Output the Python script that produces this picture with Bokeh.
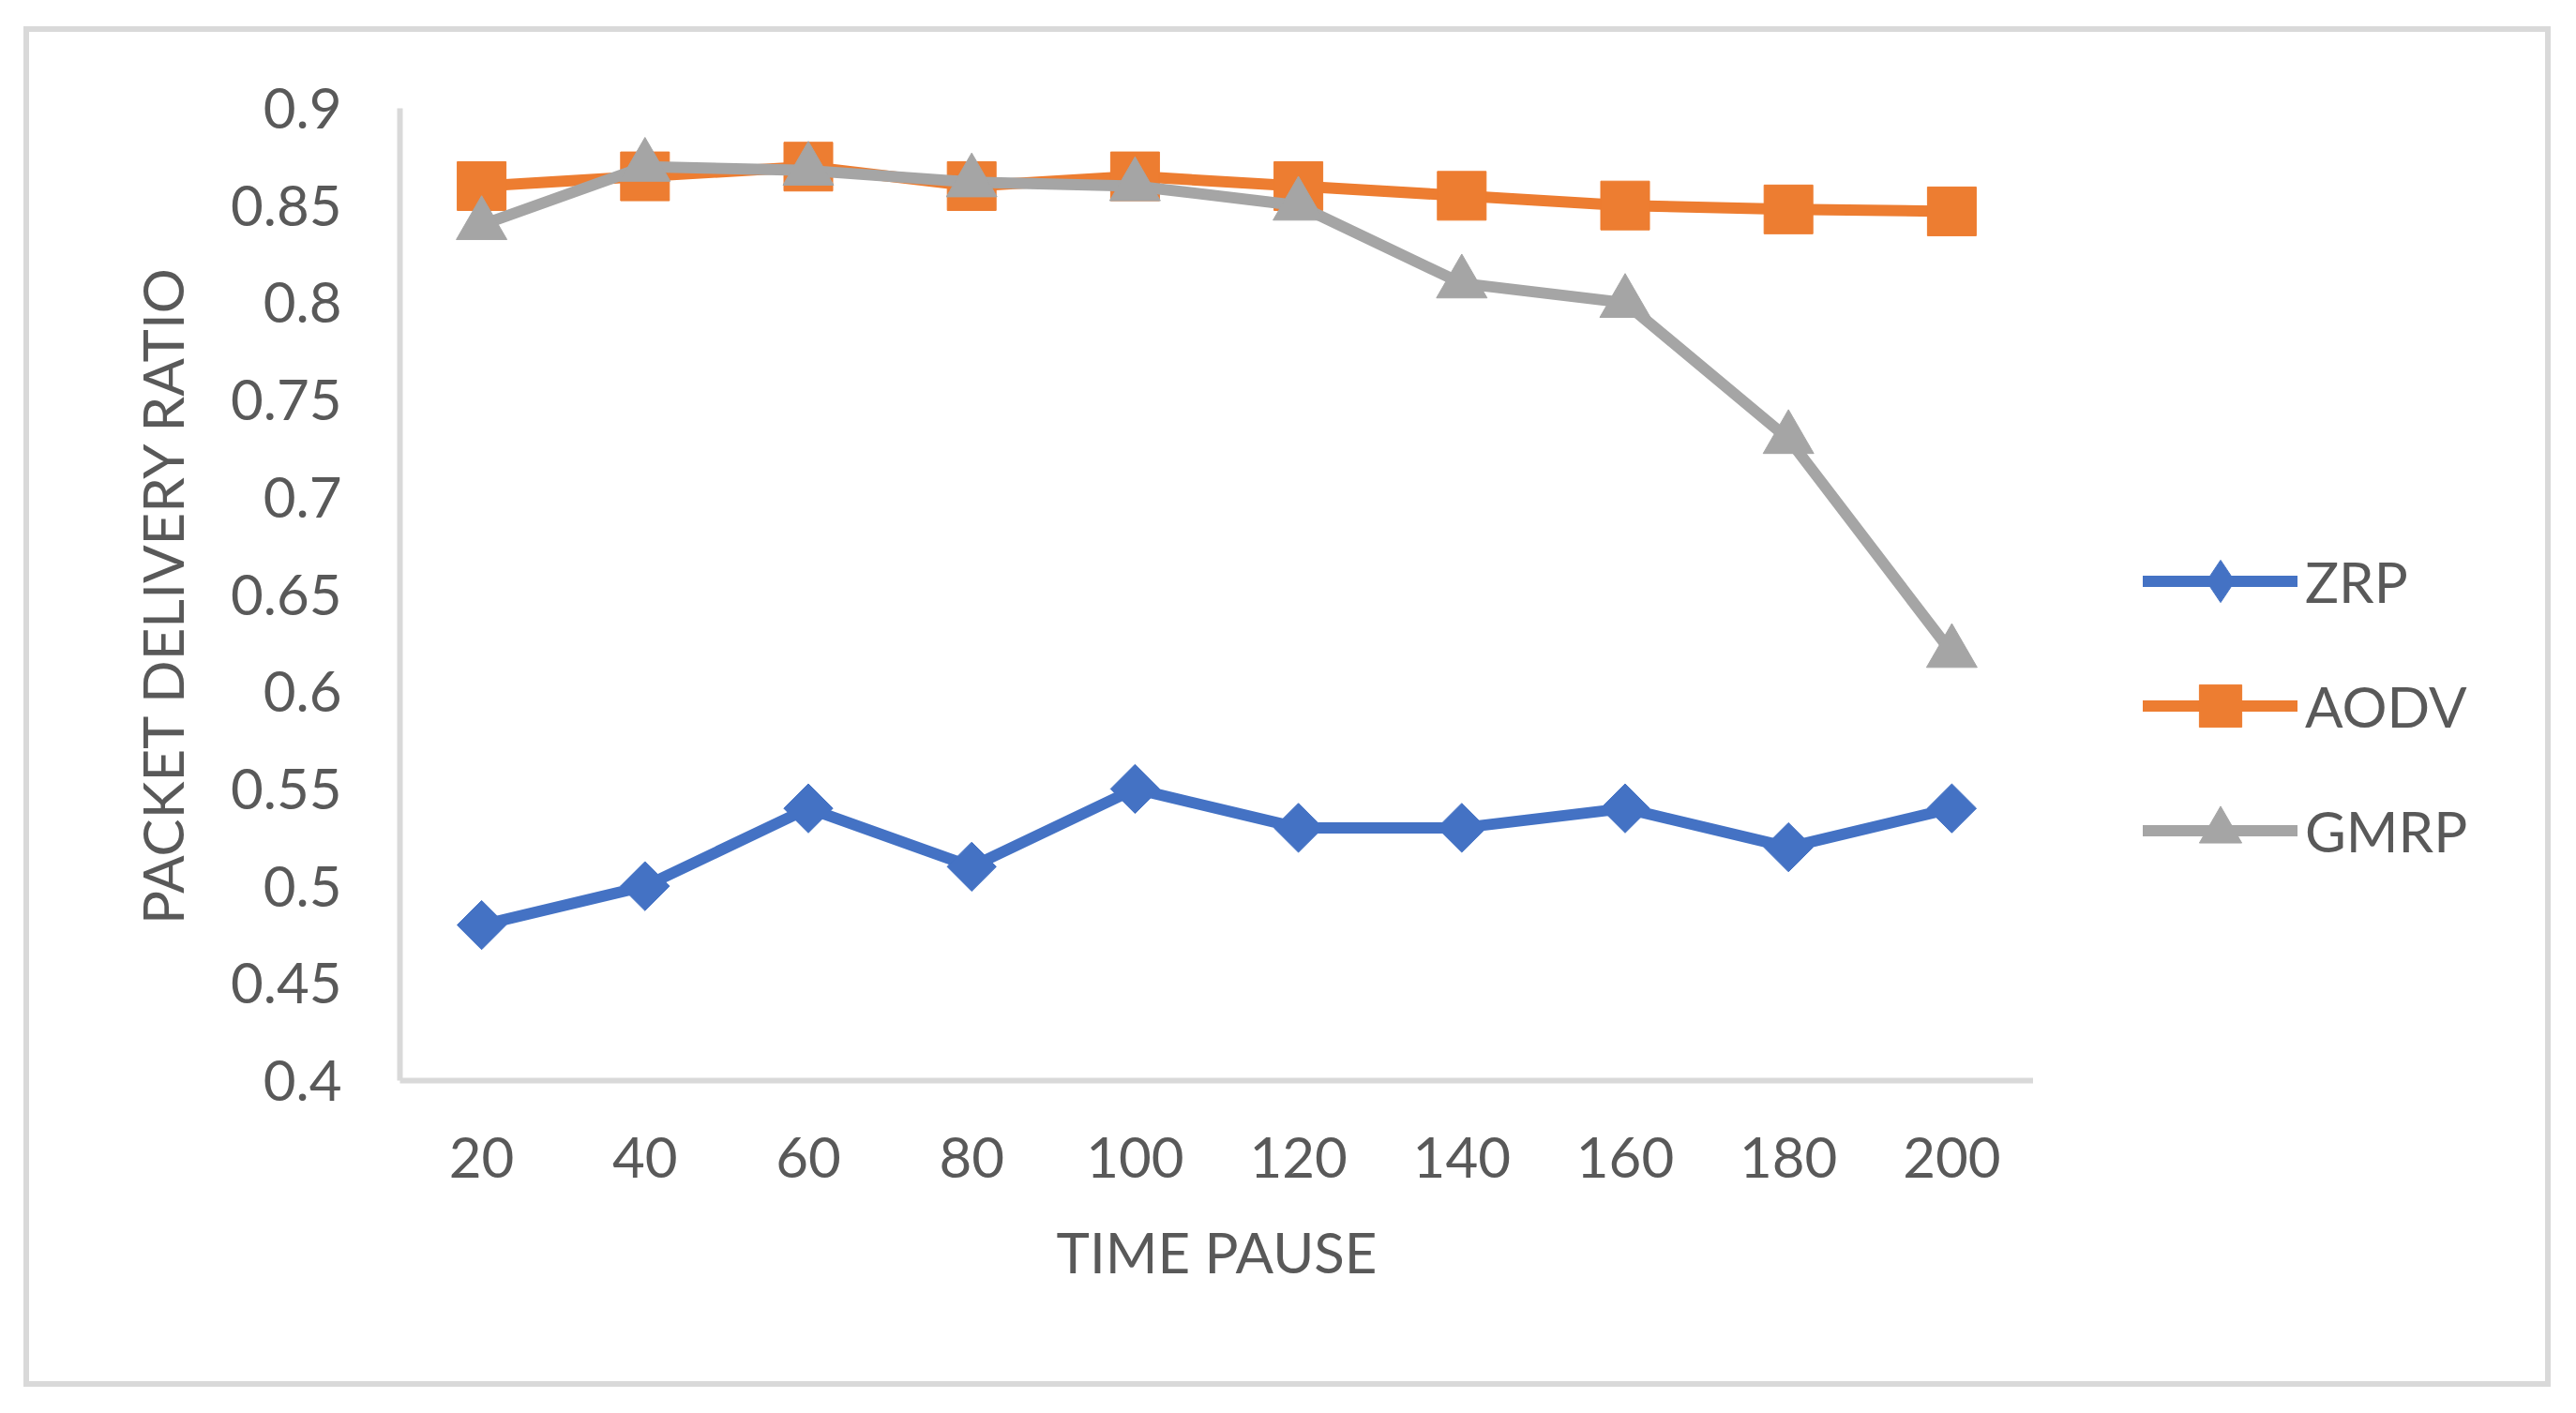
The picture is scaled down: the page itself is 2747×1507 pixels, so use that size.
import math
from bokeh.plotting import figure
from bokeh.layouts import row
from bokeh.models import FactorRange, Range1d, FixedTicker, Legend, LegendItem
from bokeh.embed import file_html
from bokeh.resources import INLINE

# ---- data ----
time_pause = ["20", "40", "60", "80", "100", "120", "140", "160", "180", "200"]
zrp = [0.48, 0.50, 0.54, 0.51, 0.55, 0.53, 0.53, 0.54, 0.52, 0.54]
aodv = [0.86, 0.865, 0.87, 0.86, 0.865, 0.86, 0.855, 0.85, 0.848, 0.847]
gmrp = [0.84, 0.87, 0.868, 0.862, 0.86, 0.85, 0.81, 0.80, 0.73, 0.62]
y_ticks = [0.4, 0.45, 0.5, 0.55, 0.6, 0.65, 0.7, 0.75, 0.8, 0.85, 0.9]
y_tick_labels = ["0.4", "0.45", "0.5", "0.55", "0.6", "0.65", "0.7", "0.75", "0.8", "0.85", "0.9"]
series_names = ["ZRP", "AODV", "GMRP"]

TEXT = "#595959"
AXIS = "#D9D9D9"
FONT = "Lato"
c1, c2, c3 = "#4472C4", "#ED7D31", "#A5A5A5"
lw = 12

H = 1439
W_MAIN, W_LEG = 2137, 546

p = figure(width=W_MAIN, height=H, output_backend="svg", toolbar_location=None,
           x_range=FactorRange(factors=time_pause, range_padding=0),
           y_range=Range1d(0.4, 0.9))
p.min_border_left = 395
p.min_border_right = 0
p.min_border_top = 81
p.min_border_bottom = 321
p.outline_line_color = None
p.background_fill_color = "white"
p.border_fill_color = "white"
p.grid.visible = False

for ax in (p.xaxis[0], p.yaxis[0]):
    ax.axis_line_color = AXIS
    ax.axis_line_width = 6
    ax.major_tick_line_color = None
    ax.minor_tick_line_color = None
    ax.major_tick_out = 0
    ax.major_tick_in = 0
    ax.major_label_text_font = FONT
    ax.major_label_text_font_size = "60px"
    ax.major_label_text_color = TEXT
    ax.axis_label_text_font = FONT
    ax.axis_label_text_font_style = "normal"
    ax.axis_label_text_color = TEXT
    ax.axis_label_text_font_size = "60px"

p.yaxis.ticker = FixedTicker(ticks=y_ticks)
p.yaxis.major_label_overrides = {t: s for t, s in zip(y_ticks, y_tick_labels)}
p.yaxis.major_label_standoff = 62
p.yaxis.axis_label = "PACKET DELIVERY RATIO"
p.yaxis.axis_label_standoff = 34
p.xaxis.major_label_standoff = 60
p.xaxis.axis_label = "TIME PAUSE"
p.xaxis.axis_label_standoff = 40

# series
p.line(time_pause, zrp, line_color=c1, line_width=lw, line_join="round", line_cap="round")
p.scatter(time_pause, zrp, marker="square", angle=math.pi / 4, size=37, fill_color=c1, line_color=c1)
p.line(time_pause, aodv, line_color=c2, line_width=lw, line_join="round", line_cap="round")
p.scatter(time_pause, aodv, marker="square", size=52, fill_color=c2, line_color=c2)
p.line(time_pause, gmrp, line_color=c3, line_width=lw, line_join="round", line_cap="round")
p.scatter(time_pause, gmrp, marker="triangle", size=54, fill_color=c3, line_color=c3)

# ---- legend panel (same series, drawn out of view; only the legend shows) ----
q = figure(width=W_LEG, height=H, output_backend="svg", toolbar_location=None,
           x_range=FactorRange(factors=time_pause, range_padding=0),
           y_range=Range1d(0.0, 0.1), x_axis_location=None, y_axis_location=None)
q.min_border = 0
q.outline_line_color = None
q.grid.visible = False
q.background_fill_color = "white"
q.border_fill_color = "white"

l1 = q.line(time_pause, zrp, line_color=c1, line_width=lw, line_cap="round")
m1 = q.scatter(time_pause, zrp, marker="diamond", size=40, fill_color=c1, line_color=c1)
l2 = q.line(time_pause, aodv, line_color=c2, line_width=lw, line_cap="round")
m2 = q.scatter(time_pause, aodv, marker="square", size=52, fill_color=c2, line_color=c2)
l3 = q.line(time_pause, gmrp, line_color=c3, line_width=lw, line_cap="round")
m3 = q.scatter(time_pause, gmrp, marker="triangle", size=54, fill_color=c3, line_color=c3)

legend = Legend(items=[
    LegendItem(label=series_names[0], renderers=[l1, m1]),
    LegendItem(label=series_names[1], renderers=[l2, m2]),
    LegendItem(label=series_names[2], renderers=[l3, m3]),
])
legend.location = (117, 210)
legend.border_line_color = None
legend.background_fill_alpha = 0
legend.padding = 0
legend.margin = 0
legend.glyph_width = 165
legend.glyph_height = 113
legend.label_height = 113
legend.spacing = 20
legend.label_standoff = 8
legend.label_text_font = FONT
legend.label_text_font_size = "60px"
legend.label_text_color = TEXT
q.add_layout(legend)

layout = row(p, q, spacing=0)
layout.margin = (28, 0, 0, 25)
layout.styles = {"border": "6px solid #D9D9D9"}

open("out.html", "w").write(file_html(layout, INLINE))
